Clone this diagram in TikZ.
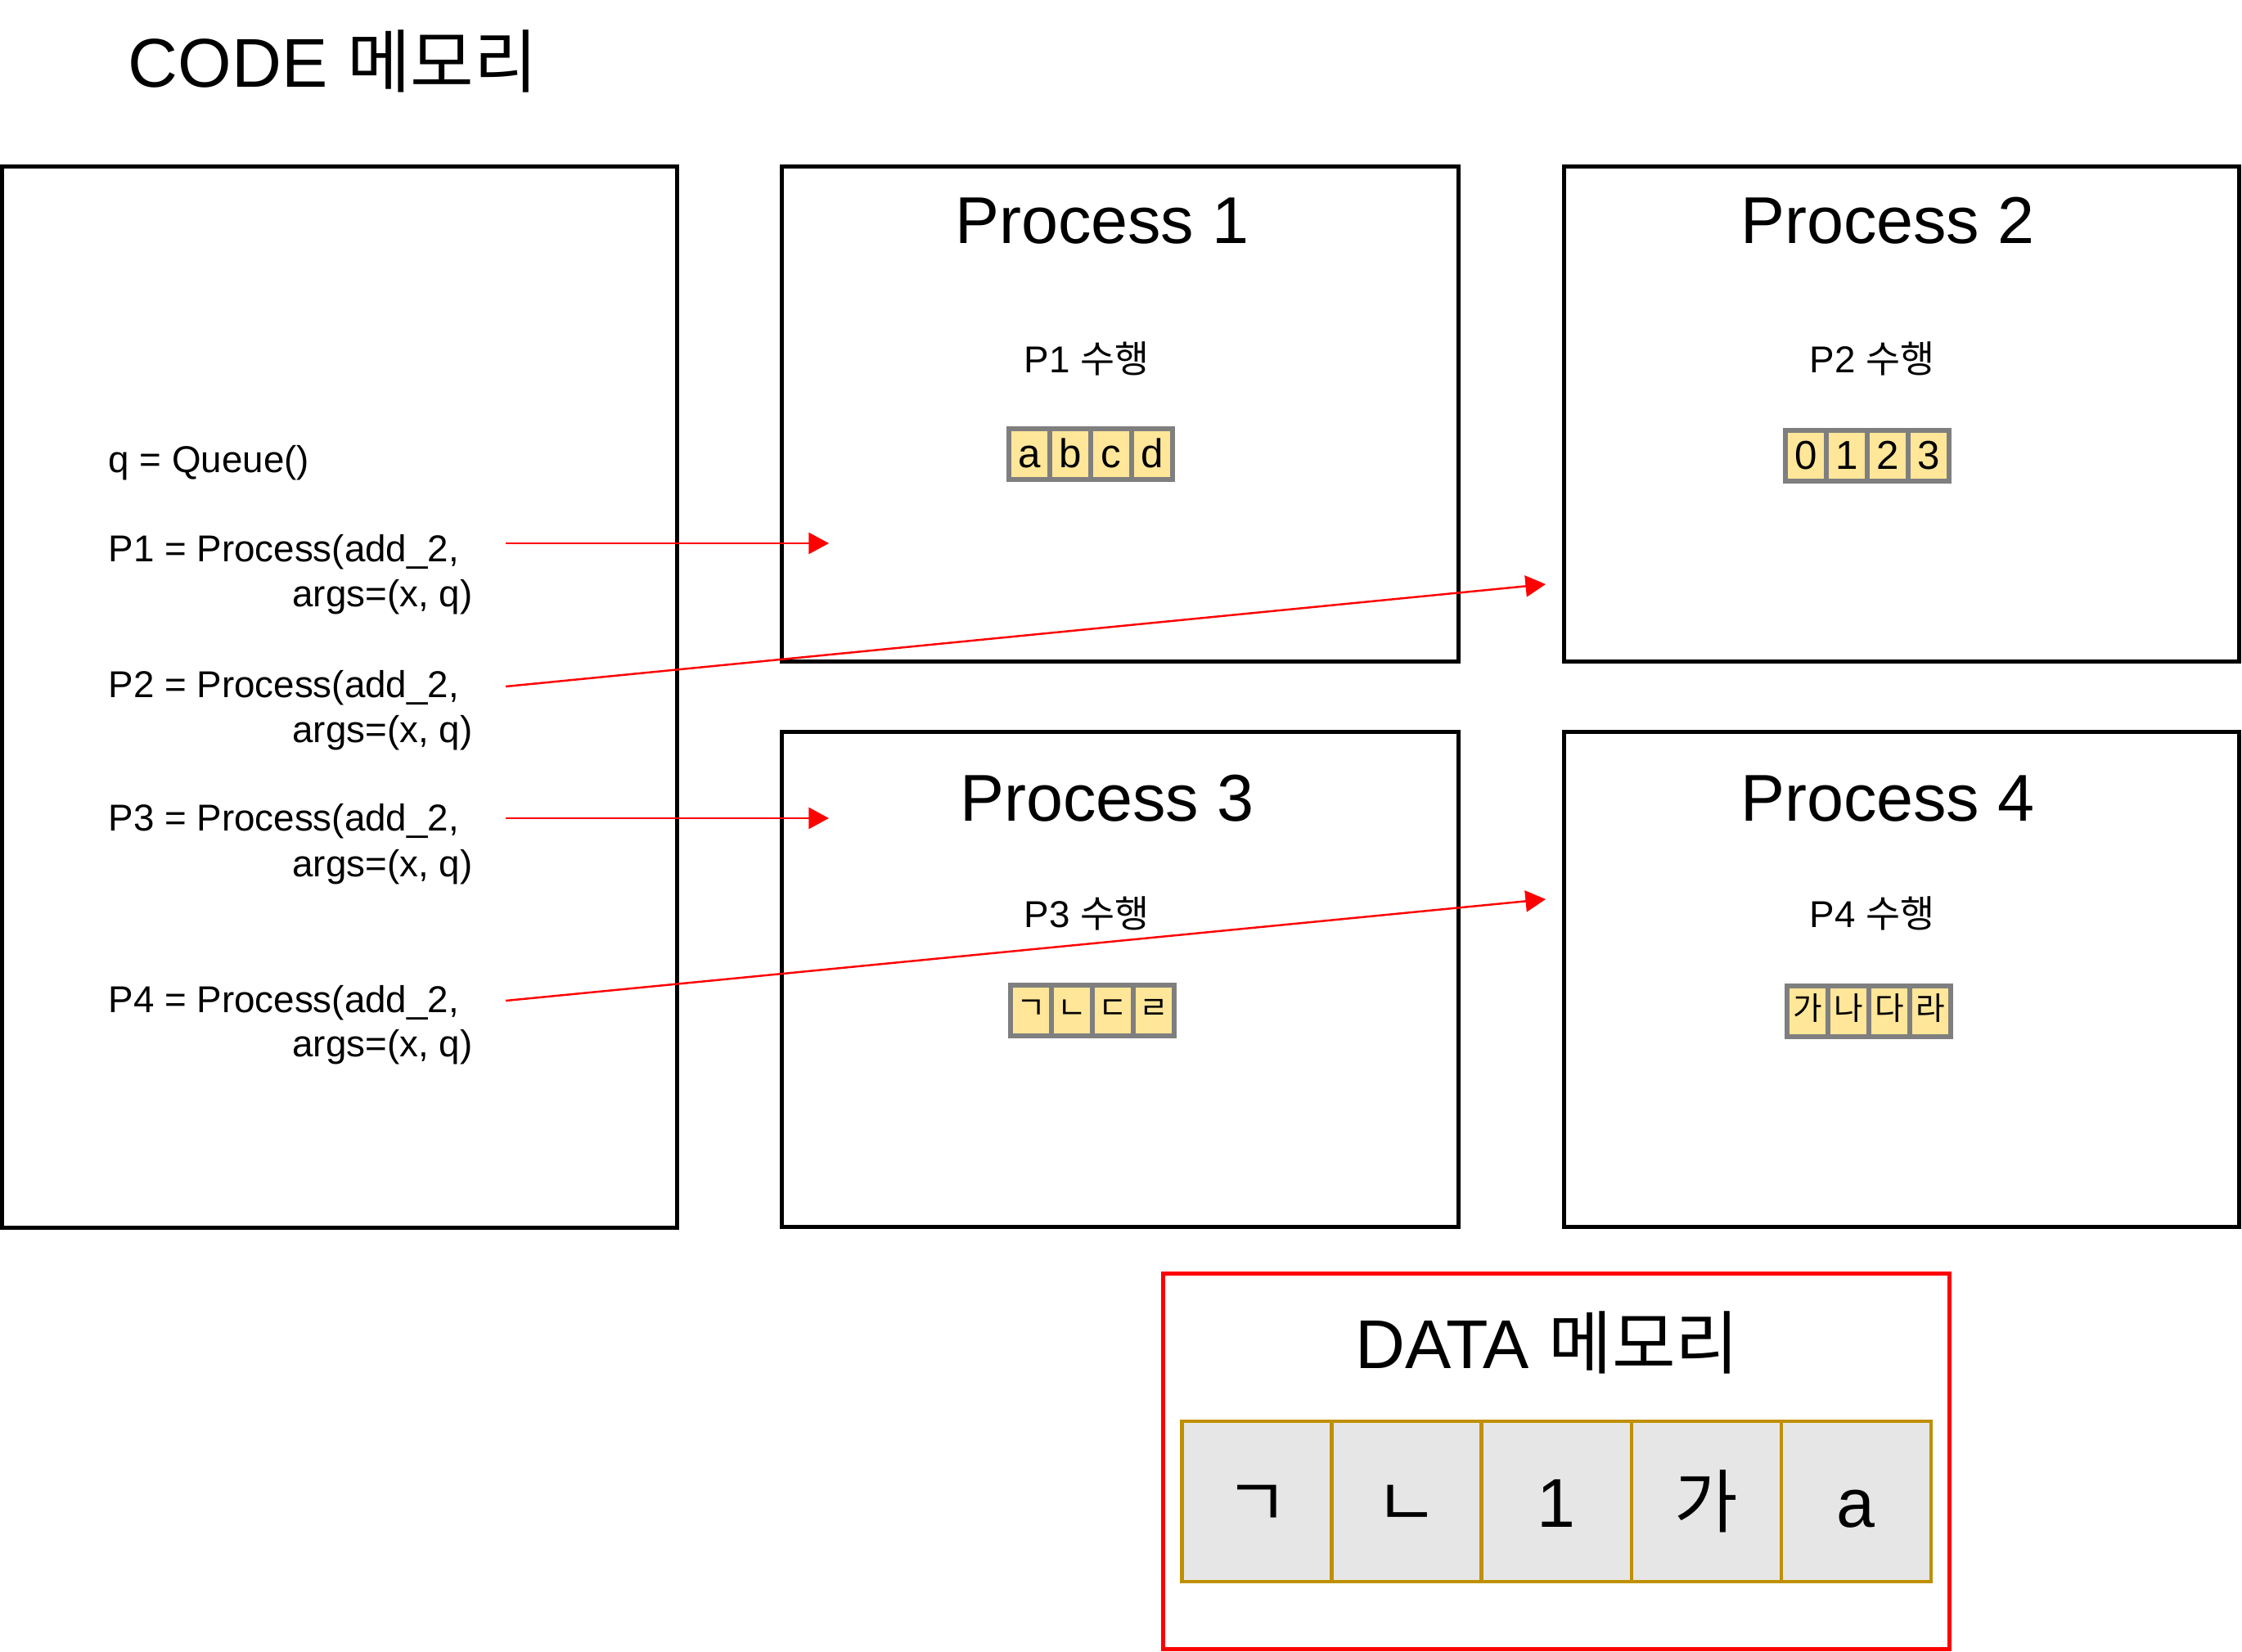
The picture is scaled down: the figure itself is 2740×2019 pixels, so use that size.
\documentclass[tikz,border=0pt]{standalone}
\usepackage{fontspec}
\setmainfont{Liberation Sans}
\newfontfamily\kr{Noto Sans CJK KR}
\usetikzlibrary{arrows.meta,positioning}
\definecolor{cellfill}{HTML}{FFE699}
\definecolor{cellline}{HTML}{7F7F7F}
\definecolor{datafill}{HTML}{E7E6E6}
\definecolor{dataline}{HTML}{BF9000}

\begin{document}
\begin{tikzpicture}[x=0.01cm, y=-0.01cm, node distance=0pt and 0pt]
    \tikzset{
        membox/.style   =   { rectangle
                            , draw=black
                            , line width=1.4pt
                            , inner sep=0pt
                            , outer sep=0pt
        }
        , ptitle/.style =   { anchor=base
                            , inner sep=0pt
                            , font=\fontsize{23}{28}\selectfont
        }
        , codeline/.style = { anchor=base west
                            , inner sep=0pt
                            , font=\fontsize{13}{16}\selectfont
        }
        , argline/.style =  { codeline
                            , anchor=base east
        }
        , runtext/.style =  { anchor=base
                            , inner sep=0pt
                            , font=\fontsize{13}{16}\selectfont
        }
        , qcell/.style  =   { rectangle
                            , draw=cellline
                            , fill=cellfill
                            , line width=1.9pt
                            , minimum width=0.5cm
                            , minimum height=0.62cm
                            , inner sep=0pt
                            , outer sep=0pt
                            , text height=9.4pt
                            , text depth=0pt
                            , font=\fontsize{14}{16}\selectfont
        }
        , hcell/.style  =   { qcell
                            , text height=6pt
                            , font=\kr\fontsize{11}{13}\selectfont
        }
        , dcell/.style  =   { rectangle
                            , draw=dataline
                            , fill=datafill
                            , line width=1.3pt
                            , minimum width=1.83cm
                            , minimum height=1.96cm
                            , inner sep=0pt
                            , outer sep=0pt
                            , text height=18pt
                            , text depth=0pt
                            , font=\fontsize{24}{28}\selectfont
        }
        , arrow/.style  =   { draw=red
                            , line width=0.7pt
                            , -{Triangle[length=7pt, width=7.4pt]}
        }
    }
    \useasboundingbox (0,0) rectangle (2740,2019);

    % code memory
    \node(ctitle)[anchor=base west, inner sep=0pt, font=\fontsize{24}{28}\selectfont] at (156,107) {CODE {\kr 메모리}};
    \node(code)[membox, minimum width=8.24cm, minimum height=12.96cm] at (415,852) {};
    \node(q)[codeline]  at (132,578)  {q = Queue()};
    \node(c1)[codeline] at (132,687)  {P1 = Process(add\_2,};
    \node(g1)[argline]  at (578,742)  {args=(x, q)};
    \node(c2)[codeline] at (132,852)  {P2 = Process(add\_2,};
    \node(g2)[argline]  at (578,907)  {args=(x, q)};
    \node(c3)[codeline] at (132,1015) {P3 = Process(add\_2,};
    \node(g3)[argline]  at (578,1071) {args=(x, q)};
    \node(c4)[codeline] at (132,1237) {P4 = Process(add\_2,};
    \node(g4)[argline]  at (578,1291) {args=(x, q)};

    % processes
    \node(p1)[membox, minimum width=8.26cm, minimum height=6.05cm] at (1369,506) {};
    \node(p2)[membox, minimum width=8.24cm, minimum height=6.05cm] at (2324,506) {};
    \node(p3)[membox, minimum width=8.26cm, minimum height=6.04cm] at (1369,1197) {};
    \node(p4)[membox, minimum width=8.24cm, minimum height=6.04cm] at (2324,1197) {};
    \node(t1)[ptitle] at (1347,298)  {Process 1};
    \node(t2)[ptitle] at (2307,298)  {Process 2};
    \node(t3)[ptitle] at (1353,1003) {Process 3};
    \node(t4)[ptitle] at (2307,1003) {Process 4};
    \node(r1)[runtext] at (1328,456)  {P1 {\kr 수행}};
    \node(r2)[runtext] at (2288,456)  {P2 {\kr 수행}};
    \node(r3)[runtext] at (1328,1133) {P3 {\kr 수행}};
    \node(r4)[runtext] at (2288,1133) {P4 {\kr 수행}};

    \node(a1)[qcell] at (1258,555) {a};
    \node(a2)[qcell, right=of a1] {b};
    \node(a3)[qcell, right=of a2] {c};
    \node(a4)[qcell, right=of a3] {d};
    \node(n1)[qcell] at (2207,557) {0};
    \node(n2)[qcell, right=of n1] {1};
    \node(n3)[qcell, right=of n2] {2};
    \node(n4)[qcell, right=of n3] {3};
    \node(j1)[hcell] at (1260,1235) {ㄱ};
    \node(j2)[hcell, right=of j1] {ㄴ};
    \node(j3)[hcell, right=of j2] {ㄷ};
    \node(j4)[hcell, right=of j3] {ㄹ};
    \node(h1)[hcell] at (2209,1236) {가};
    \node(h2)[hcell, right=of h1] {나};
    \node(h3)[hcell, right=of h2] {다};
    \node(h4)[hcell, right=of h3] {라};

    % data memory
    \node(data)[membox, draw=red, line width=1.4pt, minimum width=9.6cm, minimum height=4.58cm] at (1902,1786) {};
    \node(dtitle)[anchor=base, inner sep=0pt, font=\fontsize{24}{28}\selectfont] at (1891,1672) {DATA {\kr 메모리}};
    \node(d1)[dcell] at (1536,1835) {\kr ㄱ};
    \node(d2)[dcell, right=of d1] {\kr ㄴ};
    \node(d3)[dcell, right=of d2] {1};
    \node(d4)[dcell, right=of d3] {\kr 가};
    \node(d5)[dcell, right=of d4] {a};

    \coordinate(s1) at (618,664);
    \coordinate(e1) at (1013,664);
    \coordinate(s2) at (618,839);
    \coordinate(e2) at (1889,714);
    \coordinate(s3) at (618,1000);
    \coordinate(e3) at (1013,1000);
    \coordinate(s4) at (618,1223);
    \coordinate(e4) at (1889,1099);

    \draw[arrow] (s1) -- (e1);
    \draw[arrow] (s2) -- (e2);
    \draw[arrow] (s3) -- (e3);
    \draw[arrow] (s4) -- (e4);
\end{tikzpicture}
\end{document}
